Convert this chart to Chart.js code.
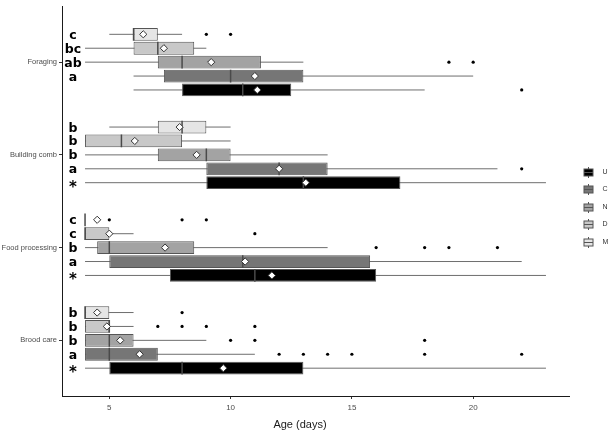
<!DOCTYPE html>
<html><head><meta charset="utf-8">
<script src="https://cdn.jsdelivr.net/npm/chart.js@4.4.1/dist/chart.umd.min.js"></script>
<style>html,body{margin:0;padding:0;background:#fff;} canvas{display:block;}</style>
</head><body>
<canvas id="c" width="609" height="433"></canvas>
<script>
// ---- data ----
const categories = ['Foraging', 'Building comb', 'Food processing', 'Brood care'];
const seriesNames = ['M', 'D', 'N', 'C', 'U'];
const seriesColors = ['#e5e5e5', '#c8c8c8', '#a3a3a3', '#767676', '#000000'];
// per category: [lower whisker, Q1, median, Q3, upper whisker]
const statsM = [[5, 6, 6, 7, 8], [5, 7, 8, 9, 10], [4, 4, 4, 4, 4], [4, 4, 4, 5, 6]];
const statsD = [[4, 6, 7, 8.5, 9], [4, 4, 5.5, 8, 10], [4, 4, 4, 5, 6], [4, 4, 5, 5, 6]];
const statsN = [[4, 7, 8, 11.25, 13], [4, 7, 9, 10, 14], [4, 4.5, 5, 8.5, 14], [4, 4, 5, 6, 9]];
const statsC = [[6, 7.25, 10, 13, 20], [4, 9, 12, 14, 21], [4, 5, 10.5, 15.75, 22], [4, 4, 5, 7, 11]];
const statsU = [[6, 8, 10.5, 12.5, 18], [4, 9, 13, 17, 23], [4, 7.5, 11, 16, 23], [4, 5, 8, 13, 23]];
const meansM = [6.4, 7.9, 4.5, 4.5];
const meansD = [7.25, 6.05, 5.0, 4.9];
const meansN = [9.2, 8.6, 7.3, 5.45];
const meansC = [11.0, 12.0, 10.6, 6.25];
const meansU = [11.1, 13.1, 11.7, 9.7];
const outliersM = [[9, 10], [], [5, 8, 9], [8]];
const outliersD = [[], [], [11], [7, 8, 9, 11]];
const outliersN = [[19, 20], [], [16, 18, 19, 21], [10, 11, 18]];
const outliersC = [[], [22], [], [12, 13, 14, 15, 18, 22]];
const outliersU = [[22], [], [], []];
const lettersM = ['c', 'b', 'c', 'b'];
const lettersD = ['bc', 'b', 'c', 'b'];
const lettersN = ['ab', 'b', 'b', 'b'];
const lettersC = ['a', 'a', 'a', 'a'];
const lettersU = ['', '*', '*', '*'];
const xTicks = [5, 10, 15, 20];
const xMin = 3.05, xMax = 23.95;
const letterX = 3.5;
const axisTitle = 'Age (days)';

// ---- build ----
const allStats = [statsM, statsD, statsN, statsC, statsU];
const allMeans = [meansM, meansD, meansN, meansC, meansU];
const allOut = [outliersM, outliersD, outliersN, outliersC, outliersU];
const allLetters = [lettersM, lettersD, lettersN, lettersC, lettersU];
const slot = 0.15, boxFrac = 0.92;
const pos = (i, k) => i + (k - 2) * slot;
const half = slot * boxFrac / 2;
const GAP = {x: NaN, y: NaN};

const barSets = seriesNames.map((name, k) => ({
  type: 'bar', label: name,
  data: categories.map((c, i) => ({y: pos(i, k), x: [allStats[k][i][1], allStats[k][i][3]]})),
  backgroundColor: seriesColors[k], borderColor: '#555555', borderWidth: 1, borderSkipped: false,
  grouped: false, categoryPercentage: 1, barPercentage: boxFrac, order: 2
}));
const whiskerData = [], medianData = [], meanData = [], outData = [];
seriesNames.forEach((n, k) => categories.forEach((c, i) => {
  const s = allStats[k][i], p = pos(i, k);
  whiskerData.push({x: s[0], y: p}, {x: s[4], y: p}, GAP);
  medianData.push({x: s[2], y: p - half}, {x: s[2], y: p + half}, GAP);
  meanData.push({x: allMeans[k][i], y: p});
  allOut[k][i].forEach(v => outData.push({x: v, y: p}));
}));

const lineSet = (label, data, color, width, order) => ({
  type: 'line', label, data, borderColor: color, borderWidth: width, pointRadius: 0,
  spanGaps: false, fill: false, tension: 0, order, borderCapStyle: 'butt'
});

const datasets = [
  lineSet('whiskers', whiskerData, '#6e6e6e', 1, 3),
  ...barSets,
  lineSet('medians', medianData, '#4a4a4a', 1.5, 1),
  {type: 'scatter', label: 'means', data: meanData, pointStyle: 'rectRot', pointRadius: 3.6,
   backgroundColor: '#ffffff', borderColor: '#333333', borderWidth: 1, order: 0},
  {type: 'scatter', label: 'outliers', data: outData, pointStyle: 'circle', pointRadius: 1.6,
   backgroundColor: '#000000', borderWidth: 0, order: 0}
];

const gridOpts = {display: true, drawOnChartArea: false, drawTicks: true, tickLength: 3, color: '#333333', offset: false};
const borderOpts = {display: true, color: '#1a1a1a', width: 1};

const decoPlugin = {
  id: 'deco',
  afterDatasetsDraw(chart) {
    const ctx = chart.ctx, x = chart.scales.x, y = chart.scales.y;
    ctx.save();
    ctx.fillStyle = '#000';
    ctx.textAlign = 'center';
    ctx.textBaseline = 'alphabetic';
    const lx = x.getPixelForValue(letterX);
    allLetters.forEach((arr, k) => arr.forEach((t, i) => {
      if (!t) return;
      const py = y.getPixelForValue(pos(i, k));
      if (t === '*') { ctx.font = 'bold 15px "DejaVu Sans"'; ctx.fillText(t, lx, py + 9); }
      else { ctx.font = 'bold 12.5px "DejaVu Sans"'; ctx.fillText(t, lx, py + 4.5); }
    }));
    ctx.restore();
  },
  afterDraw(chart) {
    const ctx = chart.ctx, ca = chart.chartArea;
    ctx.save();
    // axis title
    ctx.fillStyle = '#1a1a1a';
    ctx.font = '11px "Liberation Sans"';
    ctx.textAlign = 'center'; ctx.textBaseline = 'middle';
    ctx.fillText(axisTitle, (ca.left + ca.right) / 2 - 15.5, ca.bottom + 29);
    // legend
    const order = [4, 3, 2, 1, 0];
    const cx = Math.round(ca.right + 19) + 0.5;
    const yMid = (ca.top + ca.bottom) / 2 + 5.4;
    order.forEach((k, j) => {
      const yc = Math.round(yMid + (j - 2) * 17.45) + 0.5;
      ctx.strokeStyle = '#555555'; ctx.lineWidth = 1;
      ctx.beginPath(); ctx.moveTo(cx, yc - 5.5); ctx.lineTo(cx, yc + 5.5); ctx.stroke();
      ctx.fillStyle = seriesColors[k];
      ctx.fillRect(cx - 4.5, yc - 3.5, 9, 7);
      ctx.strokeRect(cx - 4.5, yc - 3.5, 9, 7);
      ctx.beginPath(); ctx.moveTo(cx - 4.5, yc); ctx.lineTo(cx + 4.5, yc); ctx.stroke();
      ctx.fillStyle = '#333333';
      ctx.font = '7px "Liberation Sans"';
      ctx.textAlign = 'left'; ctx.textBaseline = 'middle';
      ctx.fillText(seriesNames[k], cx + 14, yc);
    });
    ctx.restore();
  }
};

new Chart(document.getElementById('c'), {
  type: 'bar',
  data: {datasets},
  options: {
    indexAxis: 'y',
    responsive: false, animation: false, devicePixelRatio: 1, events: [],
    layout: {padding: {top: 2, right: 40, bottom: 0, left: 0}},
    plugins: {legend: {display: false}, tooltip: {enabled: false}, title: {display: false}},
    scales: {
      x: {type: 'linear', position: 'bottom', min: xMin, max: xMax, offset: false,
          afterBuildTicks: s => { s.ticks = xTicks.map(v => ({value: v})); },
          afterFit: s => { s.height = 37; },
          ticks: {font: {family: 'Liberation Sans', size: 8}, color: '#4d4d4d', padding: 4, maxRotation: 0, autoSkip: false},
          grid: gridOpts, border: borderOpts},
      y: {type: 'linear', position: 'left', min: -0.6, max: 3.6, reverse: true, offset: false,
          afterBuildTicks: s => { s.ticks = categories.map((c, i) => ({value: i})); },
          afterFit: s => { s.width = 62; },
          ticks: {callback: v => categories[v], font: {family: 'Liberation Sans', size: 7.5}, color: '#4d4d4d', padding: 2, autoSkip: false},
          grid: gridOpts, border: borderOpts}
    }
  },
  plugins: [decoPlugin]
});
</script>
</body></html>
